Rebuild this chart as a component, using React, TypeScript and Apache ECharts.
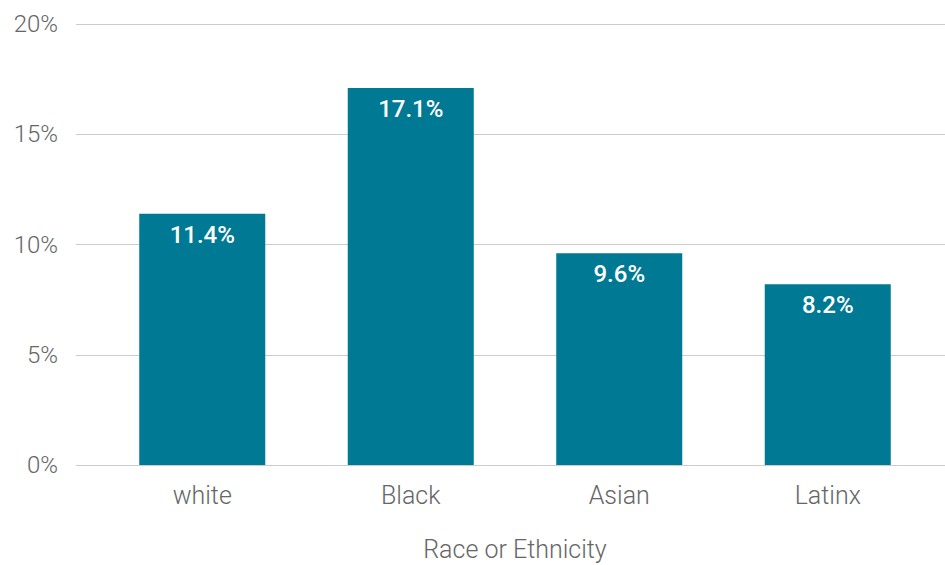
import React, { useEffect, useRef } from "react";
import * as echarts from "echarts";

const categories = ["white", "Black", "Asian", "Latinx"];
const values = [11.4, 17.1, 9.6, 8.2];
const yTicks = { min: 0, max: 20, interval: 5 };
const xAxisTitle = "Race or Ethnicity";

export default function App() {
  const ref = useRef<HTMLDivElement>(null);
  useEffect(() => {
    if (!ref.current) return;
    const chart = echarts.init(ref.current, null, { renderer: "svg" });
    const font = "Roboto, 'Noto Sans', sans-serif";
    chart.setOption({
      animation: false,
      grid: [
        { left: 76, right: 0, top: 24, bottom: 100, outerBoundsMode: "none", containLabel: false },
        { left: 98, right: 13, top: 24, bottom: 100, outerBoundsMode: "none", containLabel: false },
      ],
      xAxis: [
        { type: "value", gridIndex: 0, show: false, min: 0, max: 1 },
        {
          type: "category",
          gridIndex: 1,
          data: categories,
          axisLine: { show: false },
          axisTick: { show: false },
          axisLabel: { color: "#666666", fontSize: 25, fontFamily: font, fontWeight: 300, margin: 18 },
          name: xAxisTitle,
          nameLocation: "middle",
          nameGap: 72,
          nameTextStyle: { color: "#666666", fontSize: 25, fontFamily: font, fontWeight: 300 },
        },
      ],
      yAxis: [
        {
          type: "value",
          gridIndex: 0,
          min: yTicks.min,
          max: yTicks.max,
          interval: yTicks.interval,
          axisLine: { show: false },
          axisTick: { show: false },
          axisLabel: {
            color: "#666666",
            fontSize: 24,
            fontFamily: font,
            fontWeight: 300,
            margin: 18,
            formatter: (v: number) => `${v}%`,
          },
          splitLine: { show: true, lineStyle: { color: "#cccccc", width: 1 } },
        },
        {
          type: "value",
          gridIndex: 1,
          min: yTicks.min,
          max: yTicks.max,
          interval: yTicks.interval,
          show: false,
          splitLine: { show: false },
        },
      ],
      series: [
        {
          type: "bar",
          xAxisIndex: 1,
          yAxisIndex: 1,
          data: values,
          barWidth: 126,
          itemStyle: { color: "#007995" },
          label: {
            show: true,
            position: "insideTop",
            distance: 9,
            color: "#ffffff",
            fontSize: 24,
            fontFamily: font,
            fontWeight: 500,
            formatter: (p: any) => `${p.value.toFixed(1)}%`,
          },
        },
      ],
    });
    return () => chart.dispose();
  }, []);
  return <div ref={ref} style={{ width: 945, height: 565, position: "absolute", left: 0, top: 0 }} />;
}
